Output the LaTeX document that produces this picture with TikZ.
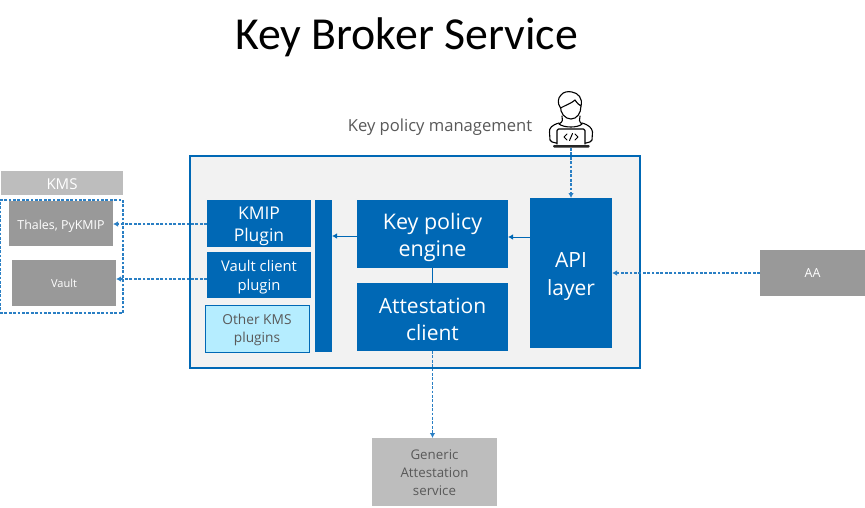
\documentclass[tikz,border=0pt]{standalone}
\usepackage{fontspec}
\setmainfont{Open Sans}
\newfontfamily\titlefont{Carlito}
\usetikzlibrary{arrows.meta}
\definecolor{ibm}{HTML}{0068B5}
\definecolor{dash}{HTML}{2A7FC4}
\definecolor{lightg}{HTML}{BDBDBD}
\definecolor{darkg}{HTML}{999999}
\definecolor{panel}{HTML}{F2F2F2}
\definecolor{sky}{HTML}{B5EDFF}
\definecolor{tx}{HTML}{595959}
\tikzset{
  boxbase/.style={inner sep=0pt,align=center,line width=0pt,anchor=center},
  bluebox/.style={boxbase,fill=ibm},
  greybox/.style={boxbase,fill=darkg},
  lightbox/.style={boxbase,fill=lightg},
  txt/.style n args={5}{label={[inner sep=0pt,align=center,text=#1,font=\fontsize{#2}{#3}\selectfont,yshift=#4pt]center:{#5}}},
  dashconn/.style={draw=dash,line width=1.25pt,dash pattern=on 2.8pt off 1.6pt,-{Latex[length=5pt,width=5.5pt]}},
  solidconn/.style={draw=ibm,line width=0.9pt,-{Latex[length=5pt,width=5.5pt]}},
  sz/.style 2 args={minimum width=#1pt,minimum height=#2pt},
  person/.style={draw=black,line width=1.1pt,line join=round,line cap=round}
}
\begin{document}
\begin{tikzpicture}[x=1pt,y=-1pt]
\useasboundingbox[fill=white] (0,0) rectangle (865,507);
\node[inner sep=0pt,font=\titlefont\fontsize{45.8}{50}\selectfont,text=black] (title) at (406.5,37) {Key Broker Service};
\node[inner sep=0pt,font=\fontsize{16.6}{20}\selectfont,text=tx] (kpm) at (440,127.5) {Key policy management};
% main panel
\node[boxbase,draw=ibm,fill=panel,line width=2.6pt,sz={450}{212}] (main) at (415,262) {};
% KMS
\node[lightbox,sz={122}{24},txt={white}{15}{18}{-1}{KMS}] (kms) at (62,183) {};
\node[boxbase,draw=dash,line width=1.2pt,dash pattern=on 2.8pt off 1.6pt,sz={123}{113}] (kmsgroup) at (61.5,256.5) {};
\node[greybox,sz={104}{45},txt={white}{12.4}{15}{-2.5}{Thales, PyKMIP}] (thales) at (61,223.5) {};
\node[greybox,sz={104}{46},txt={white}{11}{13}{0}{Vault}] (vault) at (64,283) {};
% plugins
\node[bluebox,sz={104}{47},txt={white}{17.5}{22}{-3}{KMIP\\Plugin}] (kmip) at (259,223.5) {};
\node[bluebox,sz={104}{46},txt={white}{14.8}{19.5}{-2}{Vault client\\plugin}] (vc) at (259,275) {};
\node[boxbase,draw=ibm,fill=sky,line width=0.8pt,sz={104}{47},txt={tx}{13.7}{18}{-1.5}{Other KMS\\plugins}] (other) at (257,328.5) {};
\node[bluebox,sz={17}{152}] (bar) at (323.5,276) {};
\node[bluebox,sz={151}{68},txt={white}{21.5}{27}{-3.5}{Key policy\\engine}] (engine) at (432.5,234) {};
\node[bluebox,sz={151}{68},txt={white}{21}{27}{-2}{Attestation\\client}] (att) at (432.5,317) {};
\node[bluebox,sz={82}{150},txt={white}{21}{28}{-3}{API\\layer}] (api) at (571,273) {};
\node[greybox,sz={105}{46},txt={white}{12.5}{15}{0}{AA}] (aa) at (812.5,273) {};
\node[lightbox,sz={125}{68},txt={tx}{13.3}{18}{-1}{Generic\\Attestation\\service}] (gen) at (434.5,472) {};
% person icon
\coordinate (pc) at (571,148);
\draw[person,fill=white] (559,123) .. controls (552,125) and (549,128) .. (549.5,132) -- (550,140) .. controls (550,142) and (553,142) .. (556,143) -- (586,143) .. controls (589,142) and (592,142) .. (592,140) -- (592.5,132) .. controls (592,128) and (589,125) .. (582,123);
\draw[person,fill=white] (562,116) .. controls (563,119) and (563,122) .. (559,124) .. controls (564,128) and (578,128) .. (582,124) .. controls (579,122) and (579,119) .. (580,116);
\draw[person,fill=white] (560.5,106) .. controls (560,113) and (565,119) .. (571,119) .. controls (577,119) and (581,113) .. (581,106);
\draw[person,fill=white] (560.5,108) .. controls (557,103) and (558,98) .. (561,95) .. controls (563,92) and (568,91) .. (572,92) .. controls (578,93) and (583,98) .. (581,106) .. controls (579,105) and (577,103) .. (575,100) .. controls (572,103) and (566,105) .. (560.5,108) -- cycle;
\draw[person,fill=white,rounded corners=1.5pt] (557,144) -- (557,129) -- (585,129) -- (585,144);
\draw[draw=black,line width=1pt,line cap=round,line join=round] (567,134) -- (564,137) -- (567,140) (575,134) -- (578,137) -- (575,140) (572.5,133.5) -- (569.5,140.5);
\fill[black!85,rounded corners=1pt] (553,145) rectangle (589.5,147.5);
% connectors
\draw[dashconn] ([yshift=-0.5pt]kmip.west) -- ([yshift=-0.5pt]kmip.west -| thales.east);
\draw[dashconn] ([yshift=-4pt]vc.west) -- ([yshift=-4pt]vc.west -| vault.east);
\draw[solidconn] ([yshift=-2pt]engine.west) -- ([yshift=-2pt]engine.west -| bar.east);
\draw[solidconn] ([yshift=-3pt]api.west |- engine.center) -- ([yshift=-3pt]engine.east);
\draw[draw=ibm,line width=0.9pt] (engine.south) -- (att.north);
\draw[dashconn] (att.south) -- (gen.north -| att.south);
\draw[dashconn] (aa.west) -- (api.east |- aa.west);
\draw[dashconn] (pc) -- (api.north);
\end{tikzpicture}
\end{document}
